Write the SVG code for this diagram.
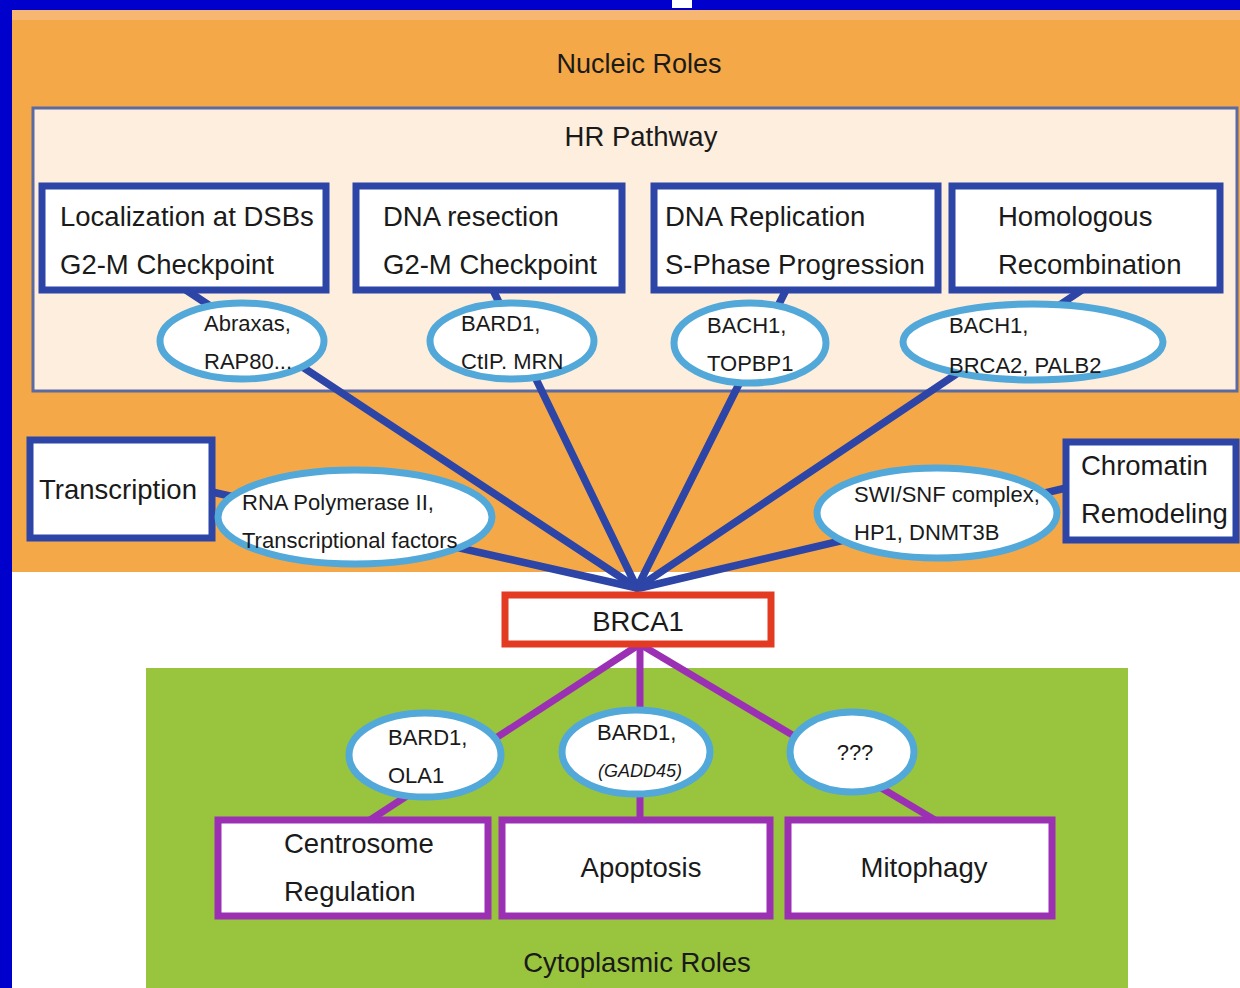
<svg xmlns="http://www.w3.org/2000/svg" width="1240" height="988" viewBox="0 0 1240 988">
<style>
text{font-family:"Liberation Sans",Arial,sans-serif;fill:#1a1a1a}
.bx{fill:#fff;stroke:#2c45a6;stroke-width:7}
.pb{fill:#fff;stroke:#9b30b4;stroke-width:7}
.el{fill:#fff;stroke:#52a8d8;stroke-width:7}
.t26{font-size:27.5px}
.t20{font-size:22px}
.t21{font-size:22px}
.bl{stroke:#2c45a6;stroke-width:7.5;fill:none;stroke-linecap:round}
.pl{stroke:#9b30b4;stroke-width:7;fill:none}
</style>
<rect x="0" y="0" width="1240" height="988" fill="#0000cc"/>
<rect x="672" y="0" width="20" height="8" fill="#ffffff"/>
<g id="nucleic-region">
<rect x="12" y="10" width="1228" height="562" fill="#f5a847"/>
<rect x="12" y="10" width="1228" height="10" fill="#f7b773"/>
<text x="639" y="73" text-anchor="middle" font-size="27">Nucleic Roles</text>
</g>
<rect x="12" y="572" width="1228" height="416" fill="#ffffff"/>
<g id="cytoplasmic-region">
<rect x="146" y="668" width="982" height="320" fill="#99c43e"/>
<text x="637" y="972" text-anchor="middle" font-size="27.5">Cytoplasmic Roles</text>
</g>
<g id="hr-pathway">
<rect x="33" y="108" width="1204" height="283" fill="#fdeedd" stroke="#5b6aa0" stroke-width="3"/>
<text x="641" y="146" text-anchor="middle" font-size="27.5">HR Pathway</text>
</g>
<g id="connectors">
<line class="bl" x1="186" y1="290" x2="637" y2="588"/>
<line class="bl" x1="493" y1="290" x2="637" y2="588"/>
<line class="bl" x1="786" y1="290" x2="637" y2="588"/>
<line class="bl" x1="1082" y1="290" x2="637" y2="588"/>
<line class="bl" x1="212" y1="492" x2="637" y2="588"/>
<line class="bl" x1="1066" y1="488" x2="640" y2="588"/>
<line class="pl" x1="637" y1="646" x2="370" y2="820"/>
<line class="pl" x1="640" y1="646" x2="640" y2="820"/>
<line class="pl" x1="643" y1="646" x2="935" y2="820"/>
</g>
<g id="box-localization">
<rect class="bx" x="42" y="186" width="284" height="104"/>
<text class="t26" x="60" y="226">Localization at DSBs</text>
<text class="t26" x="60" y="274">G2-M Checkpoint</text>
</g>
<g id="box-resection">
<rect class="bx" x="356" y="186" width="266" height="104"/>
<text class="t26" x="383" y="226">DNA resection</text>
<text class="t26" x="383" y="274">G2-M Checkpoint</text>
</g>
<g id="box-replication">
<rect class="bx" x="654" y="186" width="284" height="104"/>
<text class="t26" x="665" y="226">DNA Replication</text>
<text class="t26" x="665" y="274">S-Phase Progression</text>
</g>
<g id="box-hr">
<rect class="bx" x="952" y="186" width="268" height="104"/>
<text class="t26" x="998" y="226">Homologous</text>
<text class="t26" x="998" y="274">Recombination</text>
</g>
<g id="ell-abraxas">
<ellipse class="el" cx="242" cy="341" rx="82" ry="38"/>
<text class="t20" x="204" y="331">Abraxas,</text>
<text class="t20" x="204" y="369">RAP80...</text>
</g>
<g id="ell-bard1">
<ellipse class="el" cx="512" cy="341" rx="82" ry="38"/>
<text class="t20" x="461" y="331">BARD1,</text>
<text class="t20" x="461" y="369">CtIP. MRN</text>
</g>
<g id="ell-bach1">
<ellipse class="el" cx="750" cy="343" rx="76" ry="40"/>
<text class="t20" x="707" y="333">BACH1,</text>
<text class="t20" x="707" y="371">TOPBP1</text>
</g>
<g id="ell-brca2">
<ellipse class="el" cx="1033" cy="342" rx="130" ry="38"/>
<text class="t20" x="949" y="333">BACH1,</text>
<text class="t20" x="949" y="373">BRCA2, PALB2</text>
</g>
<g id="box-transcription">
<rect class="bx" x="30" y="440" width="182" height="98"/>
<text class="t26" x="39" y="499">Transcription</text>
</g>
<g id="ell-rnapol">
<ellipse class="el" cx="355" cy="517" rx="137" ry="47"/>
<text class="t20" x="242" y="510">RNA Polymerase II,</text>
<text class="t20" x="242" y="548">Transcriptional factors</text>
</g>
<g id="box-chromatin">
<rect class="bx" x="1066" y="442" width="170" height="98"/>
<text class="t26" x="1081" y="475">Chromatin</text>
<text class="t26" x="1081" y="523">Remodeling</text>
</g>
<g id="ell-swisnf">
<ellipse class="el" cx="937" cy="513" rx="120" ry="45"/>
<text class="t20" x="854" y="502">SWI/SNF complex,</text>
<text class="t20" x="854" y="540">HP1, DNMT3B</text>
</g>
<g id="brca1">
<rect x="505" y="595" width="266" height="49" fill="#fff" stroke="#e33a22" stroke-width="7"/>
<text class="t26" x="638" y="631" text-anchor="middle">BRCA1</text>
</g>
<g id="ell-ola1">
<ellipse class="el" cx="425" cy="755" rx="76" ry="42"/>
<text class="t21" x="388" y="745">BARD1,</text>
<text class="t21" x="388" y="783">OLA1</text>
</g>
<g id="ell-gadd45">
<ellipse class="el" cx="636" cy="752" rx="74" ry="42"/>
<text class="t21" x="597" y="740">BARD1,</text>
<text x="598" y="777" font-size="19" font-style="italic" textLength="84" lengthAdjust="spacingAndGlyphs">(GADD45)</text>
</g>
<g id="ell-unknown">
<ellipse class="el" cx="852" cy="752" rx="62" ry="40"/>
<text class="t21" x="855" y="760" text-anchor="middle">???</text>
</g>
<g id="box-centrosome">
<rect class="pb" x="218" y="820" width="270" height="96"/>
<text class="t26" x="284" y="853">Centrosome</text>
<text class="t26" x="284" y="901">Regulation</text>
</g>
<g id="box-apoptosis">
<rect class="pb" x="502" y="820" width="268" height="96"/>
<text class="t26" x="641" y="877" text-anchor="middle">Apoptosis</text>
</g>
<g id="box-mitophagy">
<rect class="pb" x="788" y="820" width="264" height="96"/>
<text class="t26" x="924" y="877" text-anchor="middle">Mitophagy</text>
</g>
</svg>
